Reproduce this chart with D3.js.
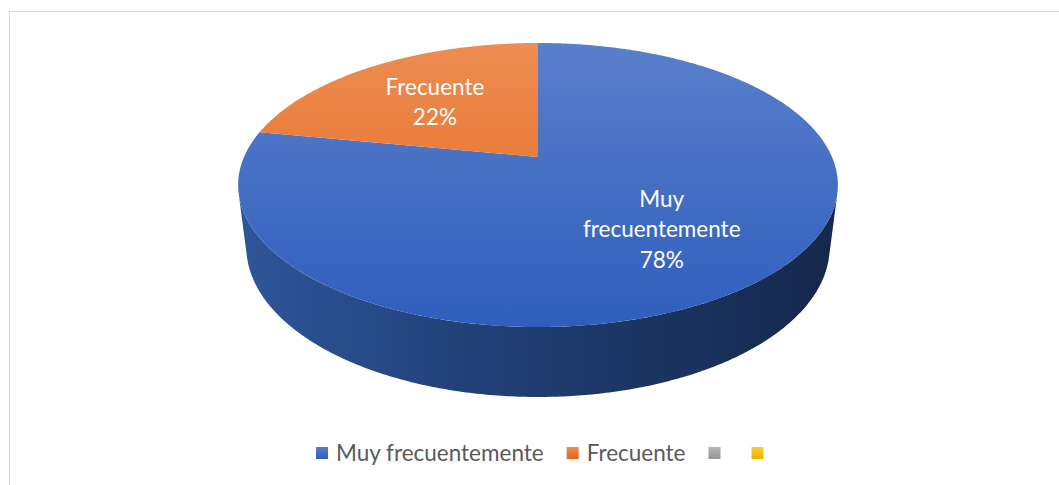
<!DOCTYPE html>
<html>
<head>
<meta charset="utf-8">
<script src="https://cdn.jsdelivr.net/npm/d3@7"></script>
<style>
  body { margin: 0; background: #fff; }
  svg { display: block; font-family: Lato, "Open Sans", sans-serif; }
</style>
</head>
<body>
<div id="chart"></div>
<script>
// data
const categories = ["Muy frecuentemente", "Frecuente", "", ""];
const values = [78, 22, 0, 0];
const colors = ["#4472C4", "#ED7D31", "#A5A5A5", "#FFC000"];
const labelNames = [["Muy", "frecuentemente"], ["Frecuente"], [], []];

const W = 1059, H = 485;

var svg = d3.select("#chart").append("svg")
    .attr("width", W)
    .attr("height", H);

// chart frame
svg.append("rect")
    .attr("x", 9.5).attr("y", 11.5)
    .attr("width", 1100).attr("height", 500)
    .attr("fill", "#fff")
    .attr("stroke", "#D9D9D9");

// perspective parameters for the 3d pie
const cx = 538, cy = 157;
const k = 0.197, m = 0.027;
const B = 136.5, E = 62.7;
const xs = d3.scaleLinear().domain([-1, 1]).range([cx - 294, cx + 294]);

// phi clockwise from 12 o'clock, r radius fraction, w=0 top face, w=1 bottom face
function proj(phi, r, w) {
  const u = r * Math.sin(phi), v = r * Math.cos(phi);
  const den = 1 + k * v + m * w;
  return [xs(u / den), cy + (-B * v + E * w) / den];
}

var pie = d3.pie().sort(null).startAngle(0).endAngle(2 * Math.PI);
var arcs = pie(values);

function arcPts(a0, a1, w) {
  const n = Math.max(2, Math.ceil((a1 - a0) / 0.01));
  return d3.range(n + 1).map(i => proj(a0 + (a1 - a0) * i / n, 1, w));
}

var line = d3.line();

// silhouette of the side wall (lines converge to the vanishing point)
const vy = cy + E / m;
let best = d3.range(0, 2 * Math.PI, 0.002).map(p => {
  const t = proj(p, 1, 0);
  return { p: p, a: Math.atan2(t[0] - cx, vy - t[1]) };
});
const phiR = d3.greatest(best, d => d.a).p;
const phiL = d3.least(best, d => d.a).p;

var defs = svg.append("defs");

// side wall gradient
var wg = defs.append("linearGradient").attr("id", "wall")
    .attr("gradientUnits", "userSpaceOnUse")
    .attr("x1", cx - 300).attr("x2", cx + 300).attr("y1", 0).attr("y2", 0);
wg.append("stop").attr("offset", "0%").attr("stop-color", "#2F5699");
wg.append("stop").attr("offset", "45%").attr("stop-color", "#203D73");
wg.append("stop").attr("offset", "100%").attr("stop-color", "#14284A");

// top face gradients
const topStops = [["#5A7FCB", "#2F5EBC"], ["#EE8C51", "#E2661B"], ["#B5B5B5", "#959595"], ["#FFCB2E", "#EDB200"]];
topStops.forEach((s, i) => {
  var g = defs.append("linearGradient").attr("id", "top" + i)
      .attr("gradientUnits", "userSpaceOnUse")
      .attr("x1", 0).attr("x2", 0).attr("y1", 43).attr("y2", 327);
  g.append("stop").attr("offset", "0%").attr("stop-color", s[0]);
  g.append("stop").attr("offset", "100%").attr("stop-color", s[1]);
  var lg = defs.append("linearGradient").attr("id", "leg" + i)
      .attr("x1", 0).attr("x2", 0).attr("y1", 0).attr("y2", 1);
  lg.append("stop").attr("offset", "0%").attr("stop-color", s[0]);
  lg.append("stop").attr("offset", "100%").attr("stop-color", s[1]);
});

// walls
arcs.forEach((d, i) => {
  const a0 = Math.max(d.startAngle, phiR), a1 = Math.min(d.endAngle, phiL);
  if (a1 <= a0) return;
  const pts = arcPts(a0, a1, 0).concat(arcPts(a0, a1, 1).reverse());
  svg.append("path")
      .attr("d", line(pts) + "Z")
      .attr("fill", "url(#wall)");
});

// top faces
arcs.forEach((d, i) => {
  if (d.endAngle - d.startAngle <= 0) return;
  const pts = [proj(0, 0, 0)].concat(arcPts(d.startAngle, d.endAngle, 0));
  svg.append("path")
      .attr("d", line(pts) + "Z")
      .attr("fill", "url(#top" + i + ")");
});

// data labels
const total = d3.sum(values);
arcs.forEach((d, i) => {
  if (d.value <= 0) return;
  const mid = (d.startAngle + d.endAngle) / 2;
  const c = proj(mid, 0.6, 0);
  const lines = labelNames[i].concat([Math.round(d.value / total * 100) + "%"]);
  const lh = 30.5;
  const y0 = c[1] + 3 - (lines.length - 1) * lh / 2;
  var t = svg.append("text")
      .attr("text-anchor", "middle")
      .attr("fill", "#fff")
      .attr("font-size", 22.5);
  lines.forEach((s, j) => {
    t.append("tspan").attr("x", c[0]).attr("y", y0 + j * lh)
        .attr("dy", "0.35em").text(s);
  });
});

// legend
var lx = 316;
const ly = 453;
categories.forEach((c, i) => {
  svg.append("rect")
      .attr("x", lx).attr("y", ly - 6)
      .attr("width", 12).attr("height", 12)
      .attr("fill", "url(#leg" + i + ")");
  lx += 20;
  var t = svg.append("text")
      .attr("x", lx).attr("y", ly)
      .attr("dy", "0.35em")
      .attr("fill", "#595959")
      .attr("font-size", 22.5)
      .text(c);
  lx += (c ? t.node().getComputedTextLength() : 0) + 23;
});
</script>
</body>
</html>
